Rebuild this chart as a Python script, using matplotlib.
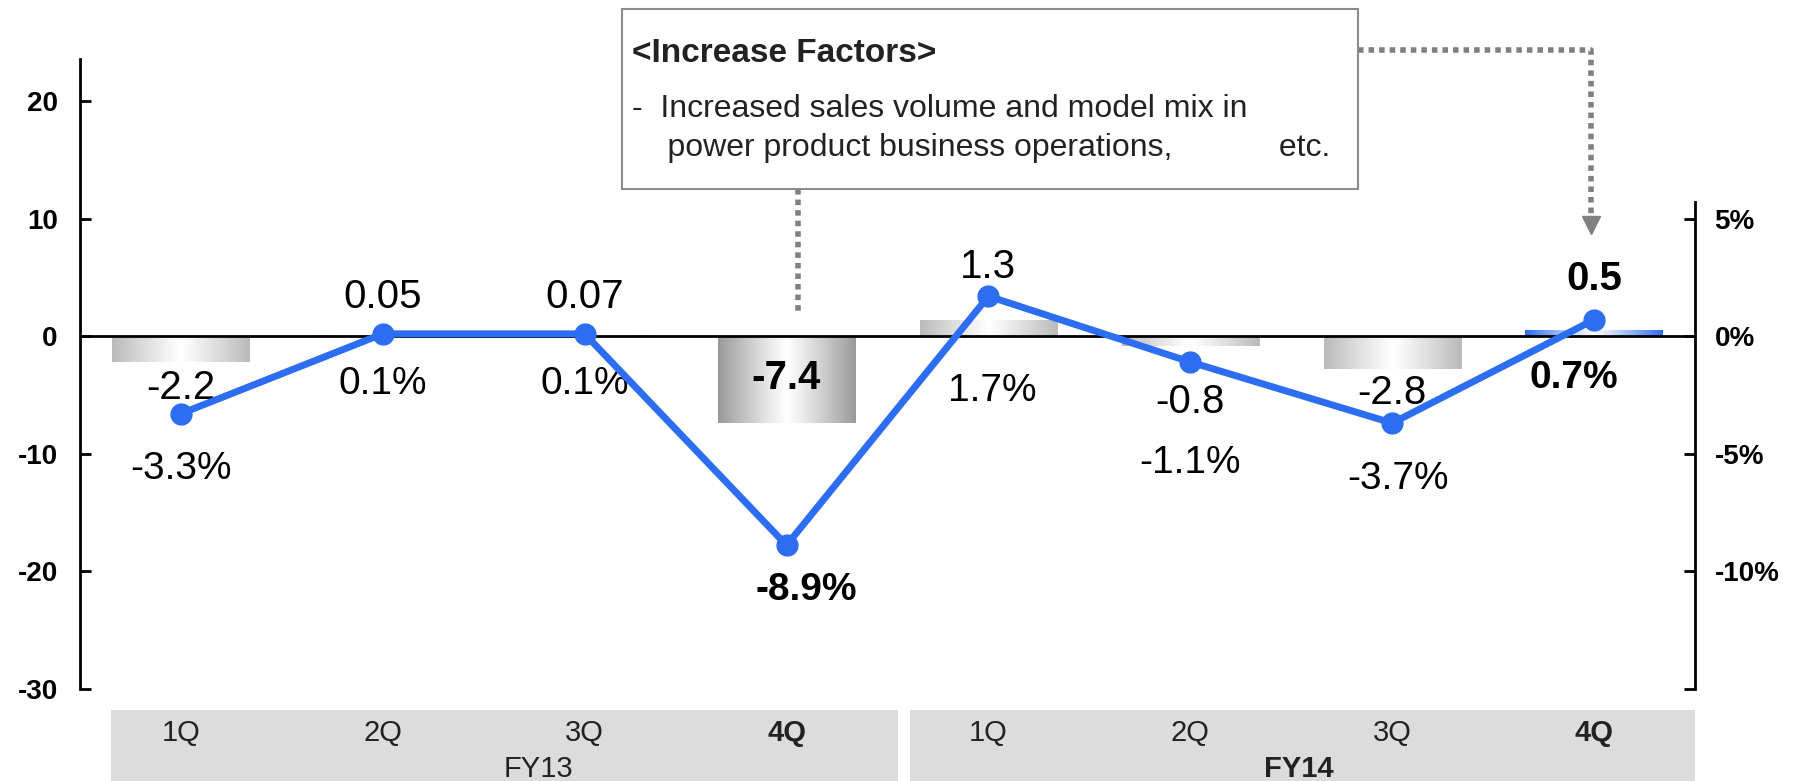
import numpy as np
import matplotlib
matplotlib.use("Agg")
import matplotlib.pyplot as plt
import matplotlib.transforms as mtransforms
from matplotlib.colors import LinearSegmentedColormap
from matplotlib.patches import Rectangle
from matplotlib.lines import Line2D

plt.rcParams['font.family'] = ['Liberation Sans', 'DejaVu Sans']

# data
quarters = ["1Q", "2Q", "3Q", "4Q", "1Q", "2Q", "3Q", "4Q"]
years = ["FY13", "FY14"]
income = [-2.2, 0.05, 0.07, -7.4, 1.3, -0.8, -2.8, 0.5]
income_labels = ["-2.2", "0.05", "0.07", "-7.4", "1.3", "-0.8", "-2.8", "0.5"]
margin = [-3.3, 0.1, 0.1, -8.9, 1.7, -1.1, -3.7, 0.7]
margin_labels = ["-3.3%", "0.1%", "0.1%", "-8.9%", "1.7%", "-1.1%", "-3.7%", "0.7%"]
bold = [False, False, False, True, False, False, False, True]

# label placement (left-axis units)
income_lab_y = [-4.4, 3.3, 3.3, -3.6, 5.9, -5.6, -4.8, 4.9]
margin_lab_x = [0, 1, 2, 3.1, 4.02, 5, 6.03, 6.9]
margin_lab_y = [-11.3, -4.1, -4.1, -21.6, -4.7, -10.8, -12.2, -3.6]

BLUE = "#2c6df2"
x = np.arange(len(income))

fig = plt.figure(figsize=(18, 7.81), dpi=100)
ax = fig.add_axes([0.0444, 0.1184, 0.8973, 0.8061])
ax2 = ax.twinx()

# gradient bars
bars = ax.bar(x, income, width=0.68, color="none", zorder=2)
grad = np.abs(np.linspace(-1, 1, 256))[None, :] ** 1.1
for i, b in enumerate(bars):
    if i == 7:
        edge = BLUE
    elif i == 3:
        edge = "#9a9a9a"
    else:
        edge = "#bababa"
    cmap = LinearSegmentedColormap.from_list("g%d" % i, ["#ffffff", edge])
    x0, y0 = b.get_x(), b.get_y()
    ax.imshow(grad, cmap=cmap, vmin=0, vmax=1, aspect="auto", zorder=2,
              extent=(x0, x0 + b.get_width(), y0, y0 + b.get_height()))

ax.set_xlim(-0.5, 7.5)
ax.set_ylim(-30, 23.6)
ax.axhline(0, color="black", lw=2, zorder=3)

ax.set_yticks([-30, -20, -10, 0, 10, 20])
ax.set_yticklabels(["-30", "-20", "-10", "0", "10", "20"], fontsize=20, fontweight="bold")
ax.tick_params(axis="y", direction="in", length=8, width=2, pad=16)
ax.set_xticks([])
for s in ["top", "bottom", "right"]:
    ax.spines[s].set_visible(False)
ax.spines["left"].set_linewidth(2)

# margin line on right axis
ax2.set_ylim(-15, 11.8)
ax2.plot(x, margin, color=BLUE, lw=5, marker="o", markersize=15, zorder=5)
ax2.set_yticks([-15, -10, -5, 0, 5])
ax2.set_yticklabels(["", "-10%", "-5%", "0%", "5%"], fontsize=20, fontweight="bold")
ax2.tick_params(axis="y", direction="in", length=8, width=2, pad=14)
for s in ["top", "bottom", "left"]:
    ax2.spines[s].set_visible(False)
ax2.spines["right"].set_linewidth(2)
ax2.spines["right"].set_bounds(-15, 5.7)

# value labels
for i in range(len(income)):
    fw = "bold" if bold[i] else "normal"
    ax.text(x[i], income_lab_y[i], income_labels[i], ha="center", va="center",
            fontsize=29, fontweight=fw, zorder=6)
    ax.text(margin_lab_x[i], margin_lab_y[i], margin_labels[i], ha="center", va="center",
            fontsize=28, fontweight=fw, zorder=6)

# category band
trans = mtransforms.blended_transform_factory(ax.transData, ax.transAxes)
for k, (a, bnd) in enumerate([(-0.346, 3.55), (3.61, 7.5)]):
    ax.add_patch(Rectangle((a, -0.147), bnd - a, 0.113, transform=trans,
                           facecolor="#dcdcdc", edgecolor="none", clip_on=False))
    ax.text((a + bnd) / 2 + (0.17 if k == 0 else -0.02), -0.128, years[k], transform=trans,
            ha="center", va="center", fontsize=21,
            fontweight="bold" if k == 1 else "normal", color="#222222")
for i, q in enumerate(quarters):
    ax.text(x[i], -0.07, q, transform=trans, ha="center", va="center", fontsize=21,
            fontweight="bold" if bold[i] else "normal", color="#222222")

# annotation box
W, H = 1800.0, 781.0
def fxy(px, py):
    return px / W, 1 - py / H

bx0, by0 = fxy(622, 189)
bx1, by1 = fxy(1358, 9)
fig.add_artist(Rectangle((bx0, by0), bx1 - bx0, by1 - by0, transform=fig.transFigure,
                         facecolor="white", edgecolor="#8c8c8c", lw=1.5, zorder=10))
fig.text(*fxy(632, 53), "<Increase Factors>", fontsize=24, fontweight="bold",
         va="center", ha="left", color="#222222", zorder=11)
fig.text(*fxy(632, 109), "-  Increased sales volume and model mix in", fontsize=23,
         va="center", ha="left", color="#222222", zorder=11)
fig.text(*fxy(632, 148), "    power product business operations,            etc.", fontsize=23,
         va="center", ha="left", color="#222222", zorder=11)

dot = dict(color="#808080", lw=4, linestyle=(0, (1, 0.9)), solid_capstyle="butt",
           dash_capstyle="butt", transform=fig.transFigure, zorder=9)
p1, p2 = fxy(798, 189), fxy(798, 312)
fig.add_artist(Line2D([p1[0], p2[0]], [p1[1], p2[1]], **dot))
q1, q2, q3 = fxy(1358, 50), fxy(1591, 50), fxy(1591, 218)
fig.add_artist(Line2D([q1[0], q2[0], q3[0]], [q1[1], q2[1], q3[1]], **dot))
tip = fxy(1591, 225)
fig.add_artist(Line2D([tip[0]], [tip[1]], marker="v", markersize=13, color="#808080",
                      transform=fig.transFigure, zorder=9))

fig.savefig("out.png", dpi=100)
